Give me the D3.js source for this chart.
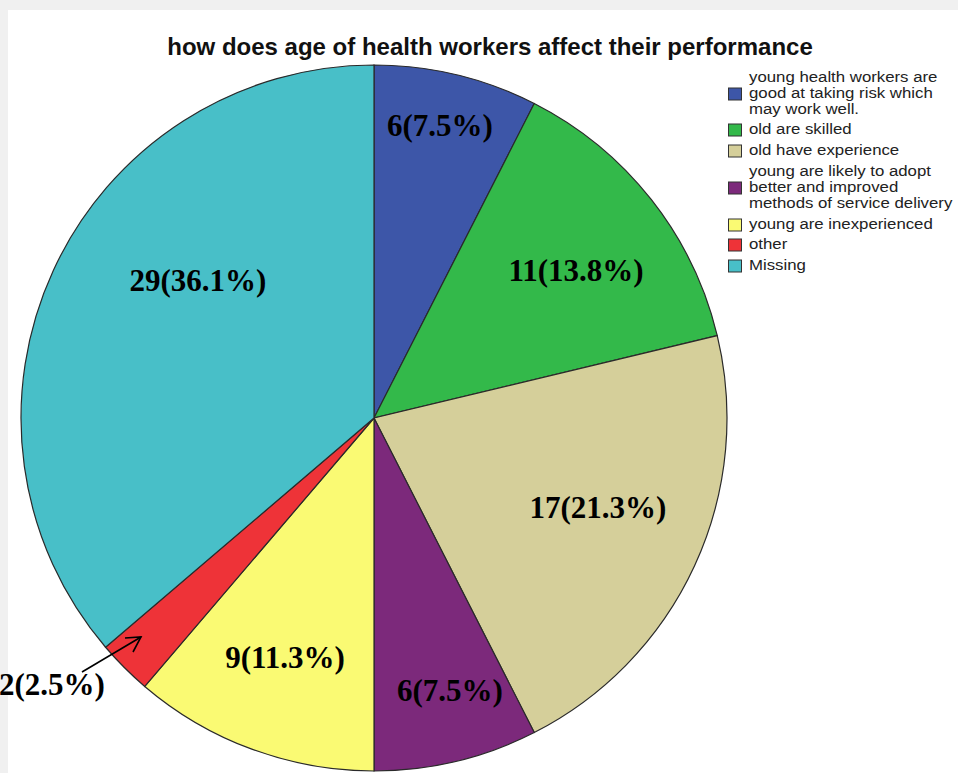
<!DOCTYPE html>
<html>
<head>
<meta charset="utf-8">
<script src="https://cdn.jsdelivr.net/npm/d3@7"></script>
<style>
  body { margin: 0; background: #fff; }
  svg { display: block; }
</style>
</head>
<body>
<div id="chart"></div>
<script>
// data
var categories = [
  "young health workers are good at taking risk which may work well.",
  "old are skilled",
  "old have experience",
  "young are likely to adopt better and improved methods of service delivery",
  "young are inexperienced",
  "other",
  "Missing"
];
var counts = [6, 11, 17, 6, 9, 2, 29];
var sliceLabels = ["6(7.5%)", "11(13.8%)", "17(21.3%)", "6(7.5%)", "9(11.3%)", "2(2.5%)", "29(36.1%)"];
// legend text wraps the way the original does
var legendLines = [
  ["young health workers are", "good at taking risk which", "may work well."],
  ["old are skilled"],
  ["old have experience"],
  ["young are likely to adopt", "better and improved", "methods of service delivery"],
  ["young are inexperienced"],
  ["other"],
  ["Missing"]
];
var colors = ["#3d56a8", "#33b94a", "#d5cf9a", "#7c297b", "#fafa73", "#ee3338", "#48bfc8"];

var width = 958, height = 773;
var cx = 374, cy = 418, radius = 353;

var svg = d3.select("#chart").append("svg")
  .attr("width", width)
  .attr("height", height);

// light gray frame on top and left, like the screenshot
svg.append("rect").attr("x", 0).attr("y", 0).attr("width", width).attr("height", 10).attr("fill", "#f0f0f0");
svg.append("rect").attr("x", 0).attr("y", 0).attr("width", 8).attr("height", height).attr("fill", "#f0f0f0");

// title
svg.append("text")
  .attr("x", 490)
  .attr("y", 55)
  .attr("text-anchor", "middle")
  .attr("font-family", "Liberation Sans, Arial, sans-serif")
  .attr("font-weight", "bold")
  .attr("font-size", 24)
  .attr("fill", "#111")
  .text("how does age of health workers affect their performance");

// pie
var pie = d3.pie().sort(null).value(function(d) { return d; });
var arc = d3.arc().innerRadius(0).outerRadius(radius);

var g = svg.append("g").attr("transform", "translate(" + cx + "," + cy + ")");

g.selectAll("path")
  .data(pie(counts))
  .enter()
  .append("path")
  .attr("d", arc)
  .attr("fill", function(d, i) { return colors[i]; })
  .attr("stroke", "#2a2a2a")
  .attr("stroke-width", 1.2);

// slice labels, placed by hand where the original put them
var labelPos = [[440, 136], [576, 281], [598, 518], [450, 701], [285, 668], [52, 695], [198, 291]];

svg.selectAll("text.sliceLabel")
  .data(sliceLabels)
  .enter()
  .append("text")
  .attr("class", "sliceLabel")
  .attr("x", function(d, i) { return labelPos[i][0]; })
  .attr("y", function(d, i) { return labelPos[i][1]; })
  .attr("text-anchor", "middle")
  .attr("font-family", "Liberation Serif, Times New Roman, serif")
  .attr("font-weight", "bold")
  .attr("font-size", 31)
  .attr("fill", "#000")
  .text(function(d) { return d; });

// arrow pointing at the small red slice
var arrow = svg.append("g").attr("stroke", "#000").attr("stroke-width", 1.6).attr("fill", "none");
arrow.append("line").attr("x1", 82).attr("y1", 672).attr("x2", 141).attr("y2", 637);
arrow.append("polyline").attr("points", "125,638 141,637 133,652");

// legend
var legend = svg.append("g").attr("transform", "translate(728,0)");
var legendText = svg.append("g").attr("transform", "translate(749,0) scale(1.12,1)");
var itemTop = [70, 122, 143, 164, 217, 237, 258];
var lineH = 16;

legendLines.forEach(function(lines, i) {
  var top = itemTop[i];
  var mid = top + lines.length * lineH / 2;
  legend.append("rect")
    .attr("x", 0.5)
    .attr("y", mid - 6)
    .attr("width", 13)
    .attr("height", 12)
    .attr("fill", colors[i])
    .attr("stroke", "#333")
    .attr("stroke-width", 1);
  lines.forEach(function(t, j) {
    legendText.append("text")
      .attr("x", 0)
      .attr("y", top + j * lineH + 12)
      .attr("font-family", "Liberation Sans, Arial, sans-serif")
      .attr("font-size", 15)
      .attr("fill", "#222")
      .text(t);
  });
});
</script>
</body>
</html>
